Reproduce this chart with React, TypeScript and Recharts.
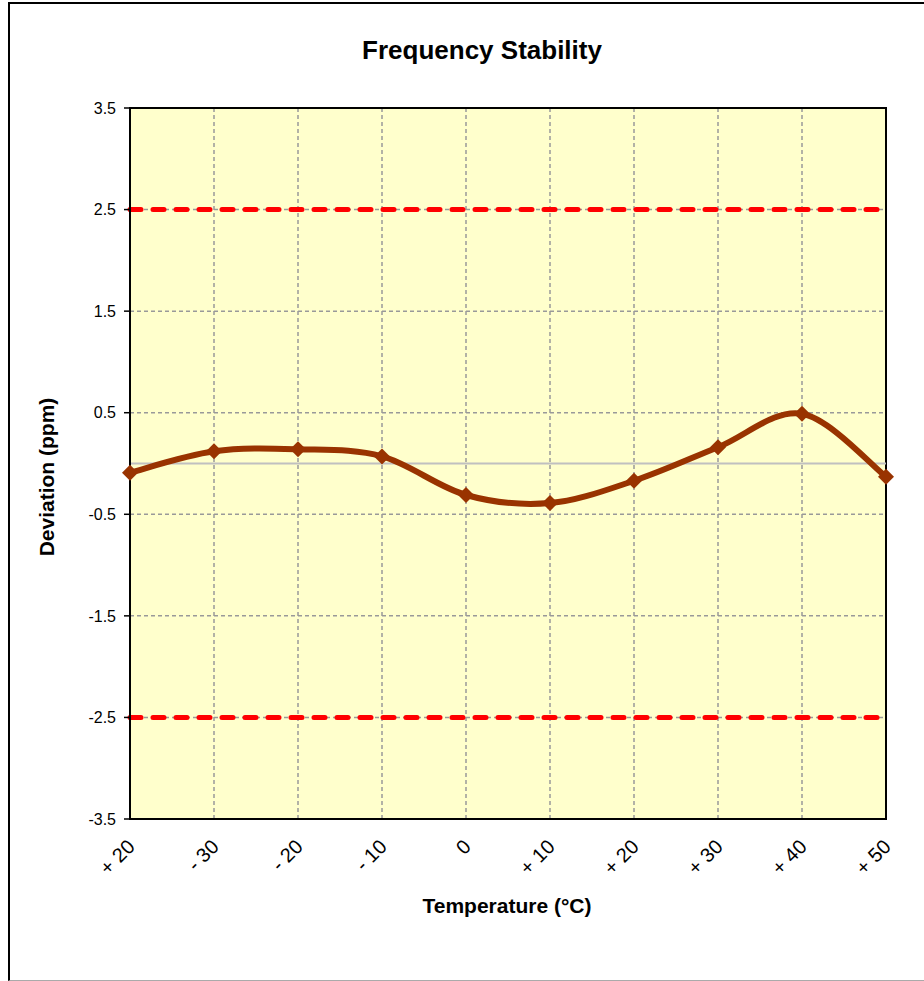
import {
  LineChart,
  Line,
  XAxis,
  YAxis,
  CartesianGrid,
  ReferenceLine,
  ReferenceArea,
} from "recharts";

// tick labels as printed on the original chart (first one really says "+ 20")
const temperatureLabels = ["+ 20", "- 30", "- 20", "- 10", "0", "+ 10", "+ 20", "+ 30", "+ 40", "+ 50"];
const deviation = [-0.09, 0.12, 0.14, 0.07, -0.31, -0.39, -0.17, 0.16, 0.49, -0.13];
const yTicks = [-3.5, -2.5, -1.5, -0.5, 0.5, 1.5, 2.5, 3.5];
const limitLines = [2.5, -2.5];

const FONT = '"Liberation Sans", Arial, sans-serif';
const LINE_COLOR = "#993300";

const data = temperatureLabels.map((label, i) => ({ i, label, value: deviation[i] }));
const xTicks = temperatureLabels.map((_, i) => i);

// Excel-like smoothing (uniform Catmull-Rom as cubic beziers)
const excelSmooth = (ctx: any) => {
  let pts: [number, number][] = [];
  return {
    areaStart() {},
    areaEnd() {},
    lineStart() {
      pts = [];
    },
    lineEnd() {
      if (!pts.length) return;
      ctx.moveTo(pts[0][0], pts[0][1]);
      for (let k = 0; k < pts.length - 1; k++) {
        const p0 = pts[k - 1] || pts[k];
        const p1 = pts[k];
        const p2 = pts[k + 1];
        const p3 = pts[k + 2] || p2;
        ctx.bezierCurveTo(
          p1[0] + (p2[0] - p0[0]) / 6,
          p1[1] + (p2[1] - p0[1]) / 6,
          p2[0] - (p3[0] - p1[0]) / 6,
          p2[1] - (p3[1] - p1[1]) / 6,
          p2[0],
          p2[1]
        );
      }
    },
    point(x: number, y: number) {
      pts.push([x, y]);
    },
  };
};

const Diamond = (props: any) => {
  const { cx, cy, index } = props;
  if (cx == null || cy == null) return <g key={index} />;
  const r = 8;
  return (
    <polygon
      key={index}
      points={`${cx},${cy - r} ${cx + r},${cy} ${cx},${cy + r} ${cx - r},${cy}`}
      fill={LINE_COLOR}
    />
  );
};

const RotatedTick = (props: any) => {
  const { x, y, payload } = props;
  const px = x + 6;
  const py = y + 29;
  return (
    <text
      x={px}
      y={py}
      transform={`rotate(-45, ${px}, ${py})`}
      textAnchor="end"
      fontSize={20}
      fontFamily={FONT}
      fill="#000"
    >
      {temperatureLabels[payload.value]}
    </text>
  );
};

export default function App() {
  return (
    <div
      style={{
        position: "absolute",
        left: 8,
        top: 2,
        width: 916,
        height: 979,
        boxSizing: "border-box",
        borderLeft: "2px solid #000",
        borderTop: "2px solid #000",
        borderBottom: "1px solid #aaa",
        background: "#fff",
        fontFamily: FONT,
      }}
    >
      <div
        style={{
          position: "absolute",
          left: 272,
          width: 400,
          top: 32,
          lineHeight: "28px",
          textAlign: "center",
          fontSize: 26,
          fontWeight: "bold",
        }}
      >
        Frequency Stability
      </div>

      <LineChart
        width={914}
        height={976}
        data={data}
        margin={{ top: 104, right: 38, bottom: 101, left: 60 }}
      >
        <CartesianGrid
          fill="#FFFFCC"
          stroke="#999"
          strokeWidth={1.5}
          strokeDasharray="4 3"
        />
        <XAxis
          dataKey="i"
          type="number"
          domain={[0, 9]}
          ticks={xTicks}
          interval={0}
          height={60}
          axisLine={{ stroke: "#000", strokeWidth: 2 }}
          tickLine={false}
          tickSize={0}
          tickMargin={0}
          tick={<RotatedTick />}
        />
        <YAxis
          type="number"
          domain={[-3.5, 3.5]}
          ticks={yTicks}
          interval={0}
          width={60}
          axisLine={{ stroke: "#000", strokeWidth: 2 }}
          tickLine={{ stroke: "#000", strokeWidth: 1.5 }}
          tickSize={6}
          tickMargin={8}
          tick={{ fill: "#000", fontSize: 16, fontFamily: FONT }}
        />
        <ReferenceLine y={0} stroke="#C0C0C0" strokeWidth={2} />
        {limitLines.map((v) => (
          <ReferenceLine
            key={v}
            y={v}
            stroke="#FF0000"
            strokeWidth={5}
            strokeDasharray="11 12"
            strokeLinecap="round"
          />
        ))}
        <ReferenceArea
          x1={0}
          x2={9}
          y1={-3.5}
          y2={3.5}
          fill="none"
          fillOpacity={0}
          stroke="#000"
          strokeWidth={2}
        />
        <Line
          dataKey="value"
          type={excelSmooth as any}
          stroke={LINE_COLOR}
          strokeWidth={6}
          dot={<Diamond />}
          activeDot={false}
          isAnimationActive={false}
        />
      </LineChart>

      <div
        style={{
          position: "absolute",
          left: 37 - 150,
          top: 473 - 12,
          width: 300,
          lineHeight: "24px",
          textAlign: "center",
          fontSize: 21,
          fontWeight: "bold",
          transform: "rotate(-90deg)",
        }}
      >
        Deviation (ppm)
      </div>
      <div
        style={{
          position: "absolute",
          left: 497 - 150,
          top: 902 - 12,
          width: 300,
          lineHeight: "24px",
          textAlign: "center",
          fontSize: 21,
          fontWeight: "bold",
        }}
      >
        Temperature (°C)
      </div>
    </div>
  );
}
